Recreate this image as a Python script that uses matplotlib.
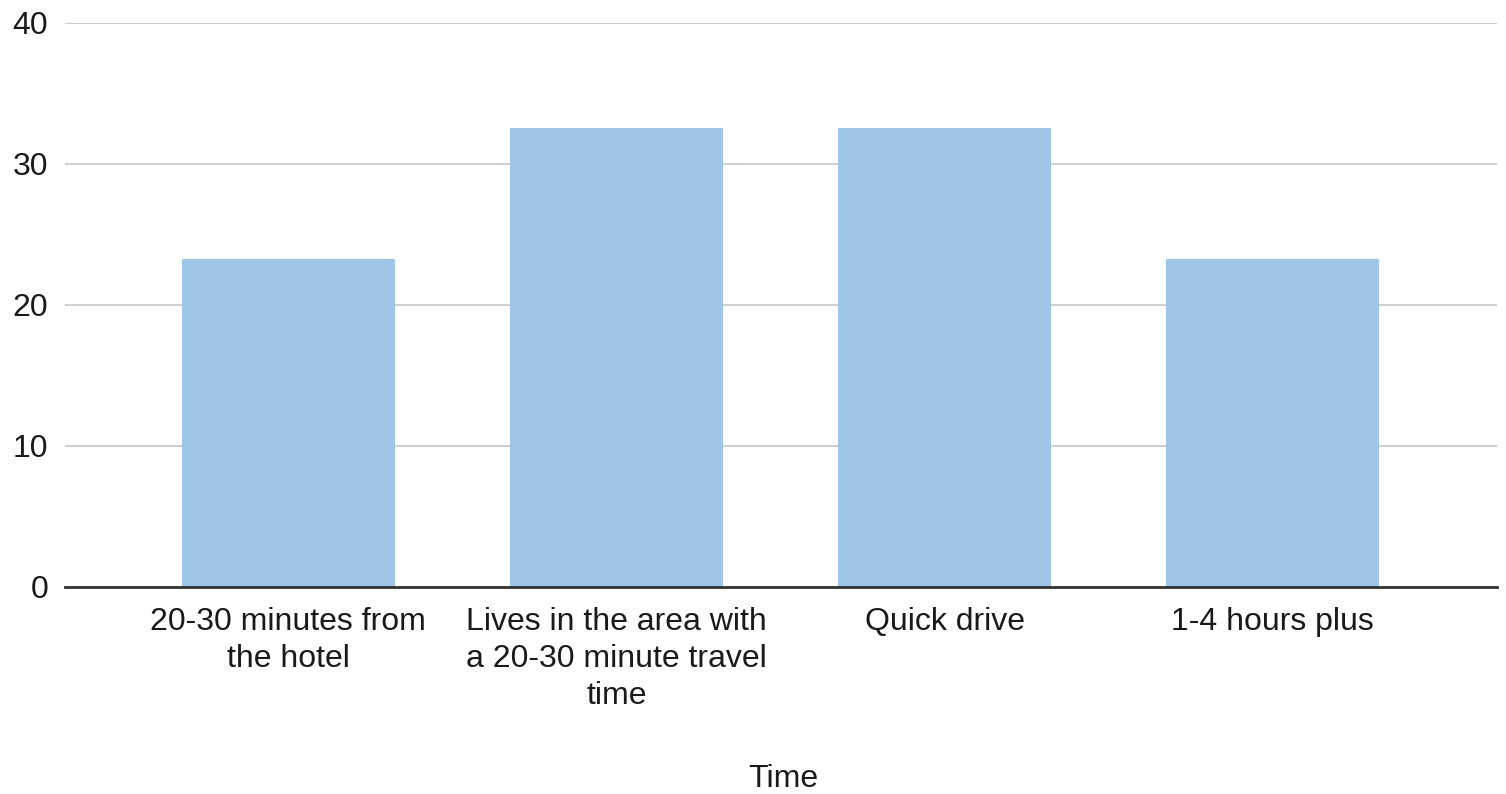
import matplotlib
matplotlib.use("Agg")
import matplotlib.pyplot as plt
import numpy as np

# Travel time categories and their share of responses (%)
categories = [
    "20-30 minutes from\nthe hotel",
    "Lives in the area with\na 20-30 minute travel\ntime",
    "Quick drive",
    "1-4 hours plus",
]
values = [23.26, 32.56, 32.56, 23.26]
y_ticks = [0, 10, 20, 30, 40]
x_title = "Time"

plt.rcParams["font.family"] = ["Liberation Sans", "DejaVu Sans"]

fig = plt.figure(figsize=(15.06, 7.94), dpi=100)
ax = fig.add_axes([65 / 1506, 1 - 586.5 / 794, (1497 - 65) / 1506, (586.5 - 23) / 794])

x = np.arange(len(categories))
ax.bar(x, values, width=0.65, color="#9fc5e8", zorder=2)

ax.set_xlim(-0.681, 3.684)
ax.set_ylim(0, 40)
ax.set_yticks(y_ticks)
ax.set_yticklabels([str(t) for t in y_ticks], fontsize=23, color="#1a1a1a")
ax.set_xticks(x)
ax.set_xticklabels(categories, fontsize=23, color="#1a1a1a", linespacing=1.3)

ax.grid(axis="y", color="#cccccc", linewidth=1.3, zorder=0)
ax.tick_params(axis="both", length=0)
ax.tick_params(axis="y", pad=12)
ax.tick_params(axis="x", pad=15)

for side in ["top", "right", "left"]:
    ax.spines[side].set_visible(False)
ax.spines["bottom"].set_color("#333333")
ax.spines["bottom"].set_linewidth(2)
ax.spines["bottom"].set_zorder(3)

fig.text(783 / 1506, 1 - 779 / 794, x_title, fontsize=23, color="#1a1a1a",
         ha="center", va="center")

fig.savefig("out.png", dpi=100, facecolor="white")
